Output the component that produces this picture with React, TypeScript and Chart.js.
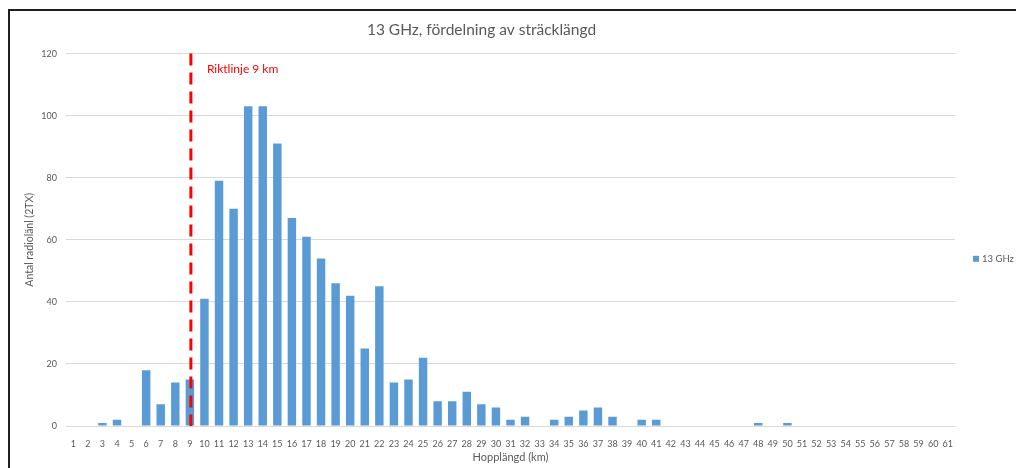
import React, { useEffect, useRef } from "react";
import { Chart, registerables } from "chart.js";

Chart.register(...registerables);

const chartTitle = "13 GHz, fördelning av sträcklängd";
const seriesName = "13 GHz";
const xAxisTitle = "Hopplängd (km)";
const yAxisTitle = "Antal radiolänl (2TX)";
const guideLabel = "Riktlinje 9 km";
const guideKm = "9";

const hopLengthKm = [
  "1", "2", "3", "4", "5", "6", "7", "8", "9", "10",
  "11", "12", "13", "14", "15", "16", "17", "18", "19", "20",
  "21", "22", "23", "24", "25", "26", "27", "28", "29", "30",
  "31", "32", "33", "34", "35", "36", "37", "38", "39", "40",
  "41", "42", "43", "44", "45", "46", "47", "48", "49", "50",
  "51", "52", "53", "54", "55", "56", "57", "58", "59", "60",
  "61",
];

const linkCounts = [
  0, 0, 1, 2, 0, 18, 7, 14, 15, 41,
  79, 70, 103, 103, 91, 67, 61, 54, 46, 42,
  25, 45, 14, 15, 22, 8, 8, 11, 7, 6,
  2, 3, 0, 2, 3, 5, 6, 3, 0, 2,
  2, 0, 0, 0, 0, 0, 0, 1, 0, 1,
  0, 0, 0, 0, 0, 0, 0, 0, 0, 0,
  0,
];

const yMin = 0;
const yMax = 120;
const yStep = 20;

const FONT = "Lato, 'Open Sans', sans-serif";
const TEXT = "#595959";
const BAR = "#5b9bd5";
const GRID = "#d9d9d9";

const overlayPlugin = {
  id: "overlay",
  afterDatasetsDraw(chart: any) {
    const { ctx, chartArea, scales } = chart;
    const x = scales.x.getPixelForValue(hopLengthKm.indexOf(guideKm));
    const yTop = scales.y.getPixelForValue(yMax);
    const yBot = scales.y.getPixelForValue(yMin);
    ctx.save();
    ctx.strokeStyle = "#ff0000";
    ctx.lineWidth = 3;
    ctx.setLineDash([12, 7]);
    ctx.beginPath();
    ctx.moveTo(x + 1, yTop);
    ctx.lineTo(x + 1, yBot);
    ctx.stroke();
    ctx.setLineDash([]);
    ctx.fillStyle = "#ff0000";
    ctx.font = `12px ${FONT}`;
    ctx.textBaseline = "middle";
    ctx.textAlign = "left";
    ctx.fillText(guideLabel, x + 17, yTop + 16);

    // legend
    const ly = (chartArea.top + chartArea.bottom) / 2 + 19;
    const lx = chartArea.right + 18;
    ctx.fillStyle = BAR;
    ctx.fillRect(lx, ly - 3, 6, 6);
    ctx.fillStyle = TEXT;
    ctx.font = `9.5px ${FONT}`;
    ctx.fillText(seriesName, lx + 9, ly);
    ctx.restore();
  },
};

export default function App() {
  const ref = useRef<HTMLCanvasElement | null>(null);

  useEffect(() => {
    if (!ref.current) return;
    const chart = new Chart(ref.current, {
      type: "bar",
      data: {
        labels: hopLengthKm,
        datasets: [
          {
            label: seriesName,
            data: linkCounts,
            backgroundColor: BAR,
            barPercentage: 0.58,
            categoryPercentage: 1,
          },
        ],
      },
      options: {
        responsive: false,
        animation: false,
        layout: { padding: { left: 8, right: 61, top: 0, bottom: 0 } },
        plugins: {
          legend: { display: false },
          tooltip: { enabled: false },
          title: {
            display: true,
            text: chartTitle,
            color: TEXT,
            font: { family: FONT, size: 15.5, weight: "normal" },
            padding: { top: 21, bottom: 14 },
          },
        },
        scales: {
          x: {
            grid: { display: false },
            border: { display: false },
            ticks: {
              color: TEXT,
              font: { family: FONT, size: 9 },
              padding: 5,
              autoSkip: false,
              maxRotation: 0,
            },
            title: {
              display: true,
              text: xAxisTitle,
              color: TEXT,
              font: { family: FONT, size: 11 },
              padding: { top: 0, bottom: 4 },
            },
            afterFit: (s: any) => {
              s.height = 42;
            },
          },
          y: {
            min: yMin,
            max: yMax,
            grid: { color: GRID, drawTicks: false },
            border: { display: false },
            ticks: {
              stepSize: yStep,
              color: TEXT,
              font: { family: FONT, size: 9 },
              padding: 9,
            },
            title: {
              display: true,
              text: yAxisTitle,
              color: TEXT,
              font: { family: FONT, size: 10.5 },
              padding: { top: 15, bottom: 0 },
            },
            afterFit: (s: any) => {
              s.width = 58;
            },
          },
        },
      },
      plugins: [overlayPlugin],
    });
    return () => chart.destroy();
  }, []);

  return (
    <div style={{ position: "fixed", left: 0, top: 0, width: 1016, height: 468, overflow: "hidden", background: "#fff" }}>
      <div
        style={{
          position: "absolute",
          left: 8,
          top: 9,
          width: 1100,
          height: 600,
          borderLeft: "2px solid #1e1e1e",
          borderTop: "2px solid #1e1e1e",
        }}
      />
      <canvas ref={ref} width={1016} height={468} style={{ position: "absolute", left: 0, top: 0 }} />
    </div>
  );
}
